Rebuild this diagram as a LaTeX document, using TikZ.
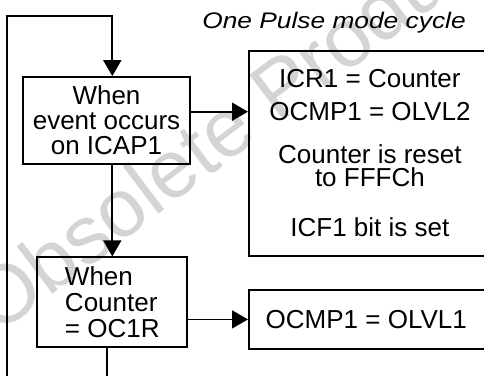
\documentclass[tikz,border=0pt]{standalone}
\usepackage{fontspec}
\setmainfont{Liberation Sans}
\newfontfamily\titlefont[FakeStretch=1.17]{Liberation Sans}
\usetikzlibrary{arrows.meta,positioning}

\begin{document}
\begin{tikzpicture}[
    x=1pt, y=-1pt,
    font=\fontsize{26}{25}\selectfont,
    box/.style={
        draw,
        line width=1.8pt,
        align=center,
        inner sep=0pt
    },
    condbox/.style={
        box,
        minimum width=150pt,
        minimum height=88pt
    },
    actionbox/.style={
        box,
        anchor=north west,
        minimum width=242pt
    },
    flow/.style={
        -{Triangle[length=16pt,width=18pt]},
        line width=1.8pt
    },
    watermark/.style={
        anchor=base west,
        rotate=37,
        text=black!17,
        font=\fontsize{82}{82}\selectfont
    }
]

\clip (0,0) rectangle (484,375);

% Background stamp
\node[watermark] (stamp) at (-5,338) {Obsolete Product};

% Title
\node[anchor=base, font=\titlefont\itshape\fontsize{22.5}{22.5}\selectfont]
    (title) at (334,28) {One Pulse mode cycle};

% Conditions
\node[condbox, minimum width=167pt, minimum height=87pt] (capture) at (106.5,120.5) {
    When\\
    event occurs\\
    on ICAP1
};

\node[condbox, align=left, minimum height=90pt] (compare) at (112.3,302.3) {
    When\\[1pt]
    Counter\\[1pt]
    = OC1R
};

% Actions
\node[actionbox, minimum height=205pt] (reset) at (248,50) {
    ICR1 = Counter\\[8pt]
    OCMP1 = OLVL2\\[18pt]
    Counter is reset\\[-2pt]
    to FFFCh\\[25pt]
    ICF1 bit is set
};

\node[actionbox, minimum height=59pt] (level) at (248,289) {
    OCMP1 = OLVL1
};

% Cycle flow
\coordinate (corner) at (7,16);

\draw[flow]
    ([xshift=-5.5pt]compare.south)
    -- ++(0,40)
    -| (corner)
    -| (compare.north |- capture.north);

\draw[flow] (capture.south -| compare.north) -- (compare.north);

\draw[flow]
    ([yshift=8.8pt]capture.east)
    -- ([yshift=8.8pt]capture.east -| reset.west);

\draw[flow] (compare.east |- level.west) -- (level.west);

\end{tikzpicture}
\end{document}
